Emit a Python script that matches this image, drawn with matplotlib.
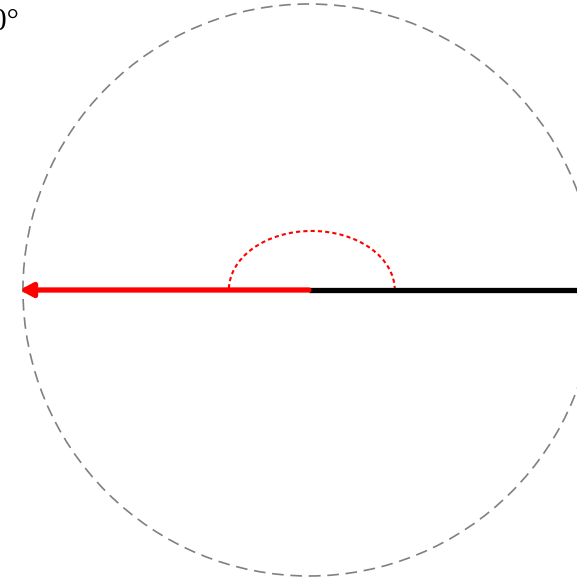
import numpy as np
import matplotlib.pyplot as plt
from matplotlib.patches import Arc, Circle

# angle shown in the picture
angle_deg = 180
label = "180°"
radius = 1.0

fig = plt.figure(figsize=(5.77, 5.80), dpi=100)
ax = fig.add_axes([0, 0, 1, 1])
ax.set_xlim(-1.080, 0.937)
ax.set_ylim(-1.014, 1.014)
ax.set_aspect('equal')
ax.axis('off')

# reference circle
ax.add_patch(Circle((0, 0), radius, fill=False, ls=(0, (7, 4)), lw=1.2, color='gray'))

# initial side
ax.plot([0, radius * 1.2], [0, 0], color='black', lw=3.8, solid_capstyle='butt')

# terminal side
t = np.deg2rad(angle_deg)
tip = radius * 1.012
ax.annotate('', xy=(tip * np.cos(t), tip * np.sin(t)), xytext=(0, 0),
            arrowprops=dict(arrowstyle='-|>,head_length=0.75,head_width=0.4',
                            color='red', lw=3.8, shrinkA=0, shrinkB=0))

# angle arc
ax.add_patch(Arc((0.01, 0), 0.58, 0.413, theta1=0, theta2=angle_deg,
                 color='red', lw=1.5, ls=(0, (2, 1.5))))

fig.text(19 / 577, 1 - 30 / 580, label, ha='right', va='baseline',
         fontsize=22, family='Liberation Serif')

fig.savefig('out.png', dpi=100)
